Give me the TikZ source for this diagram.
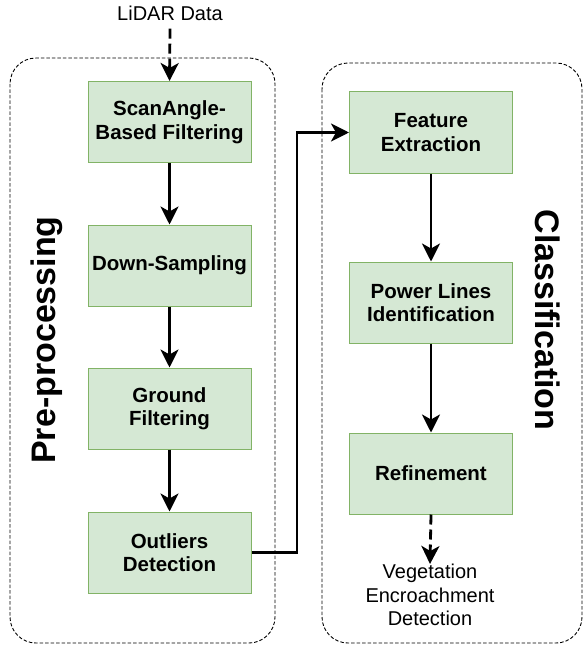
\documentclass[tikz,border=0pt]{standalone}
\usepackage{fontspec}
\setmainfont{Liberation Sans}
\usetikzlibrary{arrows.meta}
\definecolor{boxfill}{HTML}{D5E8D4}
\definecolor{boxline}{HTML}{82B366}
\begin{document}
\begin{tikzpicture}[x=1pt,y=-1pt,
  stepbox/.style={draw=boxline, fill=boxfill, line width=1pt,
    minimum width=163pt, minimum height=81pt, inner sep=2pt,
    align=center, font=\fontsize{20.5}{23.5}\selectfont\bfseries},
  plain/.style={align=center, font=\fontsize{20}{23.5}\selectfont, inner sep=0pt},
  group/.style={draw, line width=0.9pt, dash pattern=on 3.5pt off 2pt, rounded corners=26pt},
  grouplabel/.style={font=\fontsize{34}{38}\selectfont\bfseries, inner sep=0pt},
  flow/.style={line width=2.8pt, -{Stealth[length=18pt,width=18pt,inset=5pt]}},
  dflow/.style={flow, dash pattern=on 10pt off 5pt}]
\useasboundingbox (0,0) rectangle (584,650);

% stage containers
\draw[group] (10,58) rectangle (275,643);
\draw[group] (322,63) rectangle (582,643);
\node[grouplabel, rotate=90] (pre) at (47,340) {Pre-processing};
\node[grouplabel, rotate=-90] (cls) at (548,320) {Classification};

% pre-processing steps
\node[stepbox] (scan) at (169.5,122) {ScanAngle-\\Based Filtering};
\node[stepbox] (down) at (169.5,265.5) {Down-Sampling};
\node[stepbox] (ground) at (169.5,408.5) {Ground\\Filtering};
\node[stepbox] (outl) at (169.5,552.5) {Outliers\\Detection};

% classification steps
\node[stepbox] (feat) at (431,132.5) {Feature\\Extraction};
\node[stepbox] (power) at (431,302.5) {Power Lines\\Identification};
\node[stepbox] (refine) at (431,473.5) {Refinement};

% input and output
\node[plain] (lidar) at (170,13) {LiDAR Data};
\node[plain, anchor=north] (veg) at (430,564) {Vegetation\\Encroachment\\Detection};

% connectors
\draw[dflow] (lidar.south) ++(0,8) -- (scan.north);
\draw[flow] (scan) -- (down);
\draw[flow] (down) -- (ground);
\draw[flow] (ground) -- (outl);
\coordinate (bend) at (297,0);
\draw[flow] (outl.east) -- (outl.east -| bend) -- (feat.west -| bend) -- (feat.west);
\draw[flow] (feat) -- (power);
\draw[flow] (power) -- (refine);
\draw[dflow] (refine.south) -- (veg.north);
\end{tikzpicture}
\end{document}
